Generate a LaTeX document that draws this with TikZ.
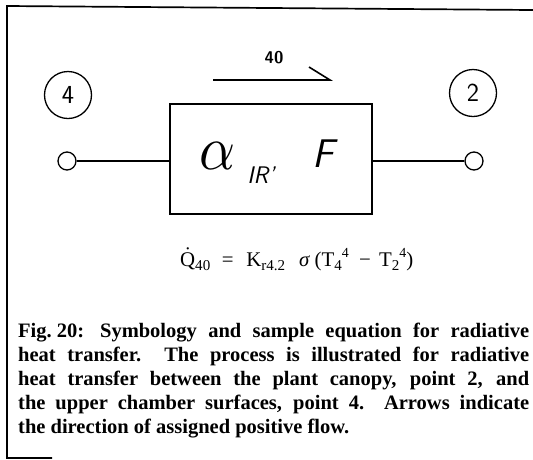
\documentclass[tikz,border=0pt]{standalone}
\usepackage{fontspec}
\usepackage{graphicx}
\newfontfamily\capf{Liberation Serif}
\newcommand\sbx[1]{\raisebox{-4pt}{\fontsize{13}{13}\selectfont #1}}
\newcommand\spx[1]{\raisebox{7pt}{\fontsize{12}{12}\selectfont #1}}
\tikzset{
  frame/.style={line width=1.7pt},
  wire/.style={line width=1.6pt},
  ptcircle/.style={circle, draw, line width=1.3pt, minimum size=47pt, inner sep=0pt, font=\sffamily\fontsize{26}{26}\selectfont},
  terminal/.style={circle, draw, line width=1.3pt, minimum size=18pt, inner sep=0pt},
  elembox/.style={rectangle, draw, line width=1.6pt, minimum width=202pt, minimum height=110pt, inner sep=0pt},
  captext/.style={anchor=base west, inner sep=0pt, font=\capf\bfseries\fontsize{20.5}{24}\selectfont},
  lbl/.style={inner sep=0pt}
}
\begin{document}
\begin{tikzpicture}[x=1pt,y=-1pt]
\useasboundingbox (0,0) rectangle (533,459);
% frame
\coordinate (ftl) at (7,6);
\coordinate (ftr) at (533,10);
\coordinate (fbl) at (7,458);
\coordinate (fbr) at (52,458);
\draw[frame] (ftr) -- (ftl) -- (fbl) -- (fbr);
% points
\node[ptcircle] (p4) at (68,95) {4};
\node[ptcircle] (p2) at (473,93) {2};
\node[terminal] (t4) at (67,161) {};
\node[terminal] (t2) at (474,161) {};
\node[elembox] (box) at (271,159) {};
\draw[wire] (t4.east) -- (t4.east -| box.west);
\draw[wire] (t2.west -| box.east) -- (t2.west);
% box labels
\node[lbl] (alpha) at (217,156) {\resizebox{36pt}{27pt}{$\alpha$}};
\node[lbl] (sub) at (261,175) {\sffamily\slshape\fontsize{24}{24}\selectfont IR’};
\node[lbl] (F) at (323,154) {\sffamily\slshape\fontsize{40}{40}\selectfont F};
% flow arrow
\coordinate (a0) at (213,80);
\coordinate (a1) at (330,80);
\coordinate (a2) at (309,67);
\draw[wire, line join=miter] (a0) -- (a1) -- (a2);
\node[lbl, font=\sffamily\bfseries\fontsize{17}{17}\selectfont] (flow) at (274,58) {40};
% equation
\node[anchor=base west, inner sep=0pt, font=\capf\fontsize{18}{20}\selectfont] (eq) at (180,266)
 {\resizebox{233pt}{!}{\.{Q}\sbx{40}\hspace{10pt}=\hspace{11pt}K\sbx{r4.2}\hspace{12pt}\textit{σ}\hspace{4pt}(T\sbx{4}\spx{4}\hspace{9pt}−\hspace{7pt}T\sbx{2}\spx{4})}};
% caption
\node[captext] (c1) at (18,337) {\makebox[511pt][s]{Fig.\hspace{5pt}20:\hspace{16pt}Symbology and sample equation for radiative}};
\node[captext] (c2) at (18,361) {\makebox[511pt][s]{heat transfer.\ \ The process is illustrated for radiative}};
\node[captext] (c3) at (18,385) {\makebox[511pt][s]{heat transfer between the plant canopy, point 2, and}};
\node[captext] (c4) at (18,409) {\makebox[511pt][s]{the upper chamber surfaces, point 4.\ \ Arrows indicate}};
\node[captext] (c5) at (18,433) {the direction of assigned positive flow.};
\end{tikzpicture}
\end{document}
